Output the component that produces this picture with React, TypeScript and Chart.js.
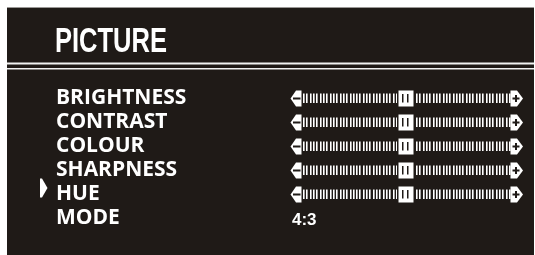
import React, { useEffect, useRef } from "react";
import { Chart, registerables } from "chart.js";

Chart.register(...registerables);

// ---- data ----
const menuTitle = "PICTURE";
const menuItems = ["BRIGHTNESS", "CONTRAST", "COLOUR", "SHARPNESS", "HUE", "MODE"];
const sliderValues: (number | null)[] = [50, 50, 50, 50, 50, null];
const textValues: (string | null)[] = [null, null, null, null, null, "4:3"];
const selectedIndex = 4;
const sliderMin = 0;
const sliderMax = 100;
const sliderSteps = 62;

const BG = "#1f1a17";
const FG = "#ffffff";

const osdPlugin = {
  id: "osd",
  beforeDraw(chart: any) {
    const { ctx, width, height } = chart;
    ctx.save();
    ctx.fillStyle = "#ffffff";
    ctx.fillRect(0, 0, width, height);
    ctx.fillStyle = BG;
    ctx.fillRect(7, 7, 527, 248);
    ctx.fillStyle = "#9a9896";
    ctx.fillRect(7, 7, 527, 1);
    // double rule
    ctx.fillStyle = "#f2f2f2";
    ctx.fillRect(7, 62.5, 527, 2);
    ctx.fillRect(7, 68, 527, 1.5);
    // title
    ctx.font = 'bold 35px "Liberation Sans Narrow", "Liberation Sans", Arial, sans-serif';
    ctx.textBaseline = "alphabetic";
    const w = ctx.measureText(menuTitle).width;
    ctx.translate(55, 52);
    ctx.scale(112 / w, 1);
    ctx.fillStyle = FG;
    ctx.fillText(menuTitle, 0, 0);
    ctx.restore();
  },
  afterDatasetsDraw(chart: any) {
    const { ctx } = chart;
    const xs = chart.scales.x;
    const ys = chart.scales.y;
    const meta = chart.getDatasetMeta(0);
    const x0 = xs.getPixelForValue(sliderMin);
    const x1 = xs.getPixelForValue(sliderMax);
    ctx.save();
    meta.data.forEach((bar: any, i: number) => {
      const y = Math.round(ys.getPixelForValue(i));
      const v = sliderValues[i];
      if (v == null) {
        const t = textValues[i];
        if (t) {
          ctx.font = 'bold 17px "Liberation Sans", Arial, sans-serif';
          ctx.fillStyle = FG;
          ctx.textBaseline = "alphabetic";
          ctx.textAlign = "left";
          ctx.fillText(t, x0 - 11, y + 7);
        }
        return;
      }
      // track ticks
      ctx.fillStyle = FG;
      for (let k = 0; k <= sliderSteps; k++) {
        const px = Math.round(
          xs.getPixelForValue(sliderMin + ((sliderMax - sliderMin) * k) / sliderSteps)
        );
        ctx.fillRect(px, y - 4.5, 1.6, 9.5);
      }
      // left arrow
      ctx.beginPath();
      ctx.moveTo(x0 - 12.5, y + 0.5);
      ctx.lineTo(x0 - 7, y - 7.5);
      ctx.lineTo(x0 - 1.5, y - 7.5);
      ctx.lineTo(x0 - 1.5, y + 8.5);
      ctx.lineTo(x0 - 7, y + 8.5);
      ctx.closePath();
      ctx.fill();
      // right arrow
      ctx.beginPath();
      ctx.moveTo(x1 + 1.5, y - 7.5);
      ctx.lineTo(x1 + 8, y - 7.5);
      ctx.lineTo(x1 + 14, y + 0.5);
      ctx.lineTo(x1 + 8, y + 8.5);
      ctx.lineTo(x1 + 1.5, y + 8.5);
      ctx.closePath();
      ctx.fill();
      ctx.fillStyle = BG;
      ctx.fillRect(x0 - 10, y - 0.5, 7.5, 2);
      ctx.fillRect(x1 + 3.5, y - 0.5, 7, 2);
      ctx.fillRect(x1 + 6, y - 3, 2, 7);
      // knob
      const k = Math.round(bar.x);
      ctx.fillStyle = BG;
      ctx.fillRect(k - 9, y - 5, 18, 11);
      ctx.fillStyle = FG;
      ctx.fillRect(k - 7.5, y - 7.5, 15, 16);
      ctx.fillStyle = BG;
      ctx.fillRect(k - 4, y - 4, 1.5, 8.5);
      ctx.fillRect(k + 1, y - 4, 1.5, 8.5);
    });
    // selection pointer
    const py = ys.getPixelForValue(selectedIndex) - 6;
    const lx = ys.left - 16;
    ctx.fillStyle = FG;
    ctx.beginPath();
    ctx.moveTo(lx, py - 9.5);
    ctx.lineTo(lx + 2, py - 9.5);
    ctx.lineTo(lx + 7.5, py);
    ctx.lineTo(lx + 2, py + 9.5);
    ctx.lineTo(lx, py + 9.5);
    ctx.closePath();
    ctx.fill();
    ctx.restore();
  },
};

export default function App() {
  const ref = useRef<HTMLCanvasElement>(null);
  useEffect(() => {
    if (!ref.current) return;
    const chart = new Chart(ref.current, {
      type: "bar",
      data: {
        labels: menuItems,
        datasets: [
          {
            data: sliderValues as any,
            backgroundColor: "rgba(0,0,0,0)",
            borderWidth: 0,
          },
        ],
      },
      options: {
        indexAxis: "y",
        responsive: false,
        animation: false,
        layout: { padding: { left: 56, right: 26, top: 86, bottom: 25 } },
        plugins: {
          legend: { display: false },
          tooltip: { enabled: false },
          title: { display: false },
        },
        scales: {
          x: { type: "linear", min: sliderMin, max: sliderMax, display: false },
          y: {
            type: "category",
            position: "left",
            grid: { display: false, drawTicks: false },
            border: { display: false },
            afterFit: (axis: any) => {
              axis.width = 303 - 56;
            },
            ticks: {
              autoSkip: false,
              crossAlign: "far",
              padding: 0,
              color: FG,
              font: { family: '"Open Sans", sans-serif', weight: "bold", size: 21 },
            },
          },
        },
      },
      plugins: [osdPlugin],
    });
    return () => chart.destroy();
  }, []);
  return (
    <div style={{ position: "fixed", left: 0, top: 0, width: 535, height: 255 }}>
      <canvas ref={ref} width={535} height={255} style={{ display: "block" }} />
    </div>
  );
}
